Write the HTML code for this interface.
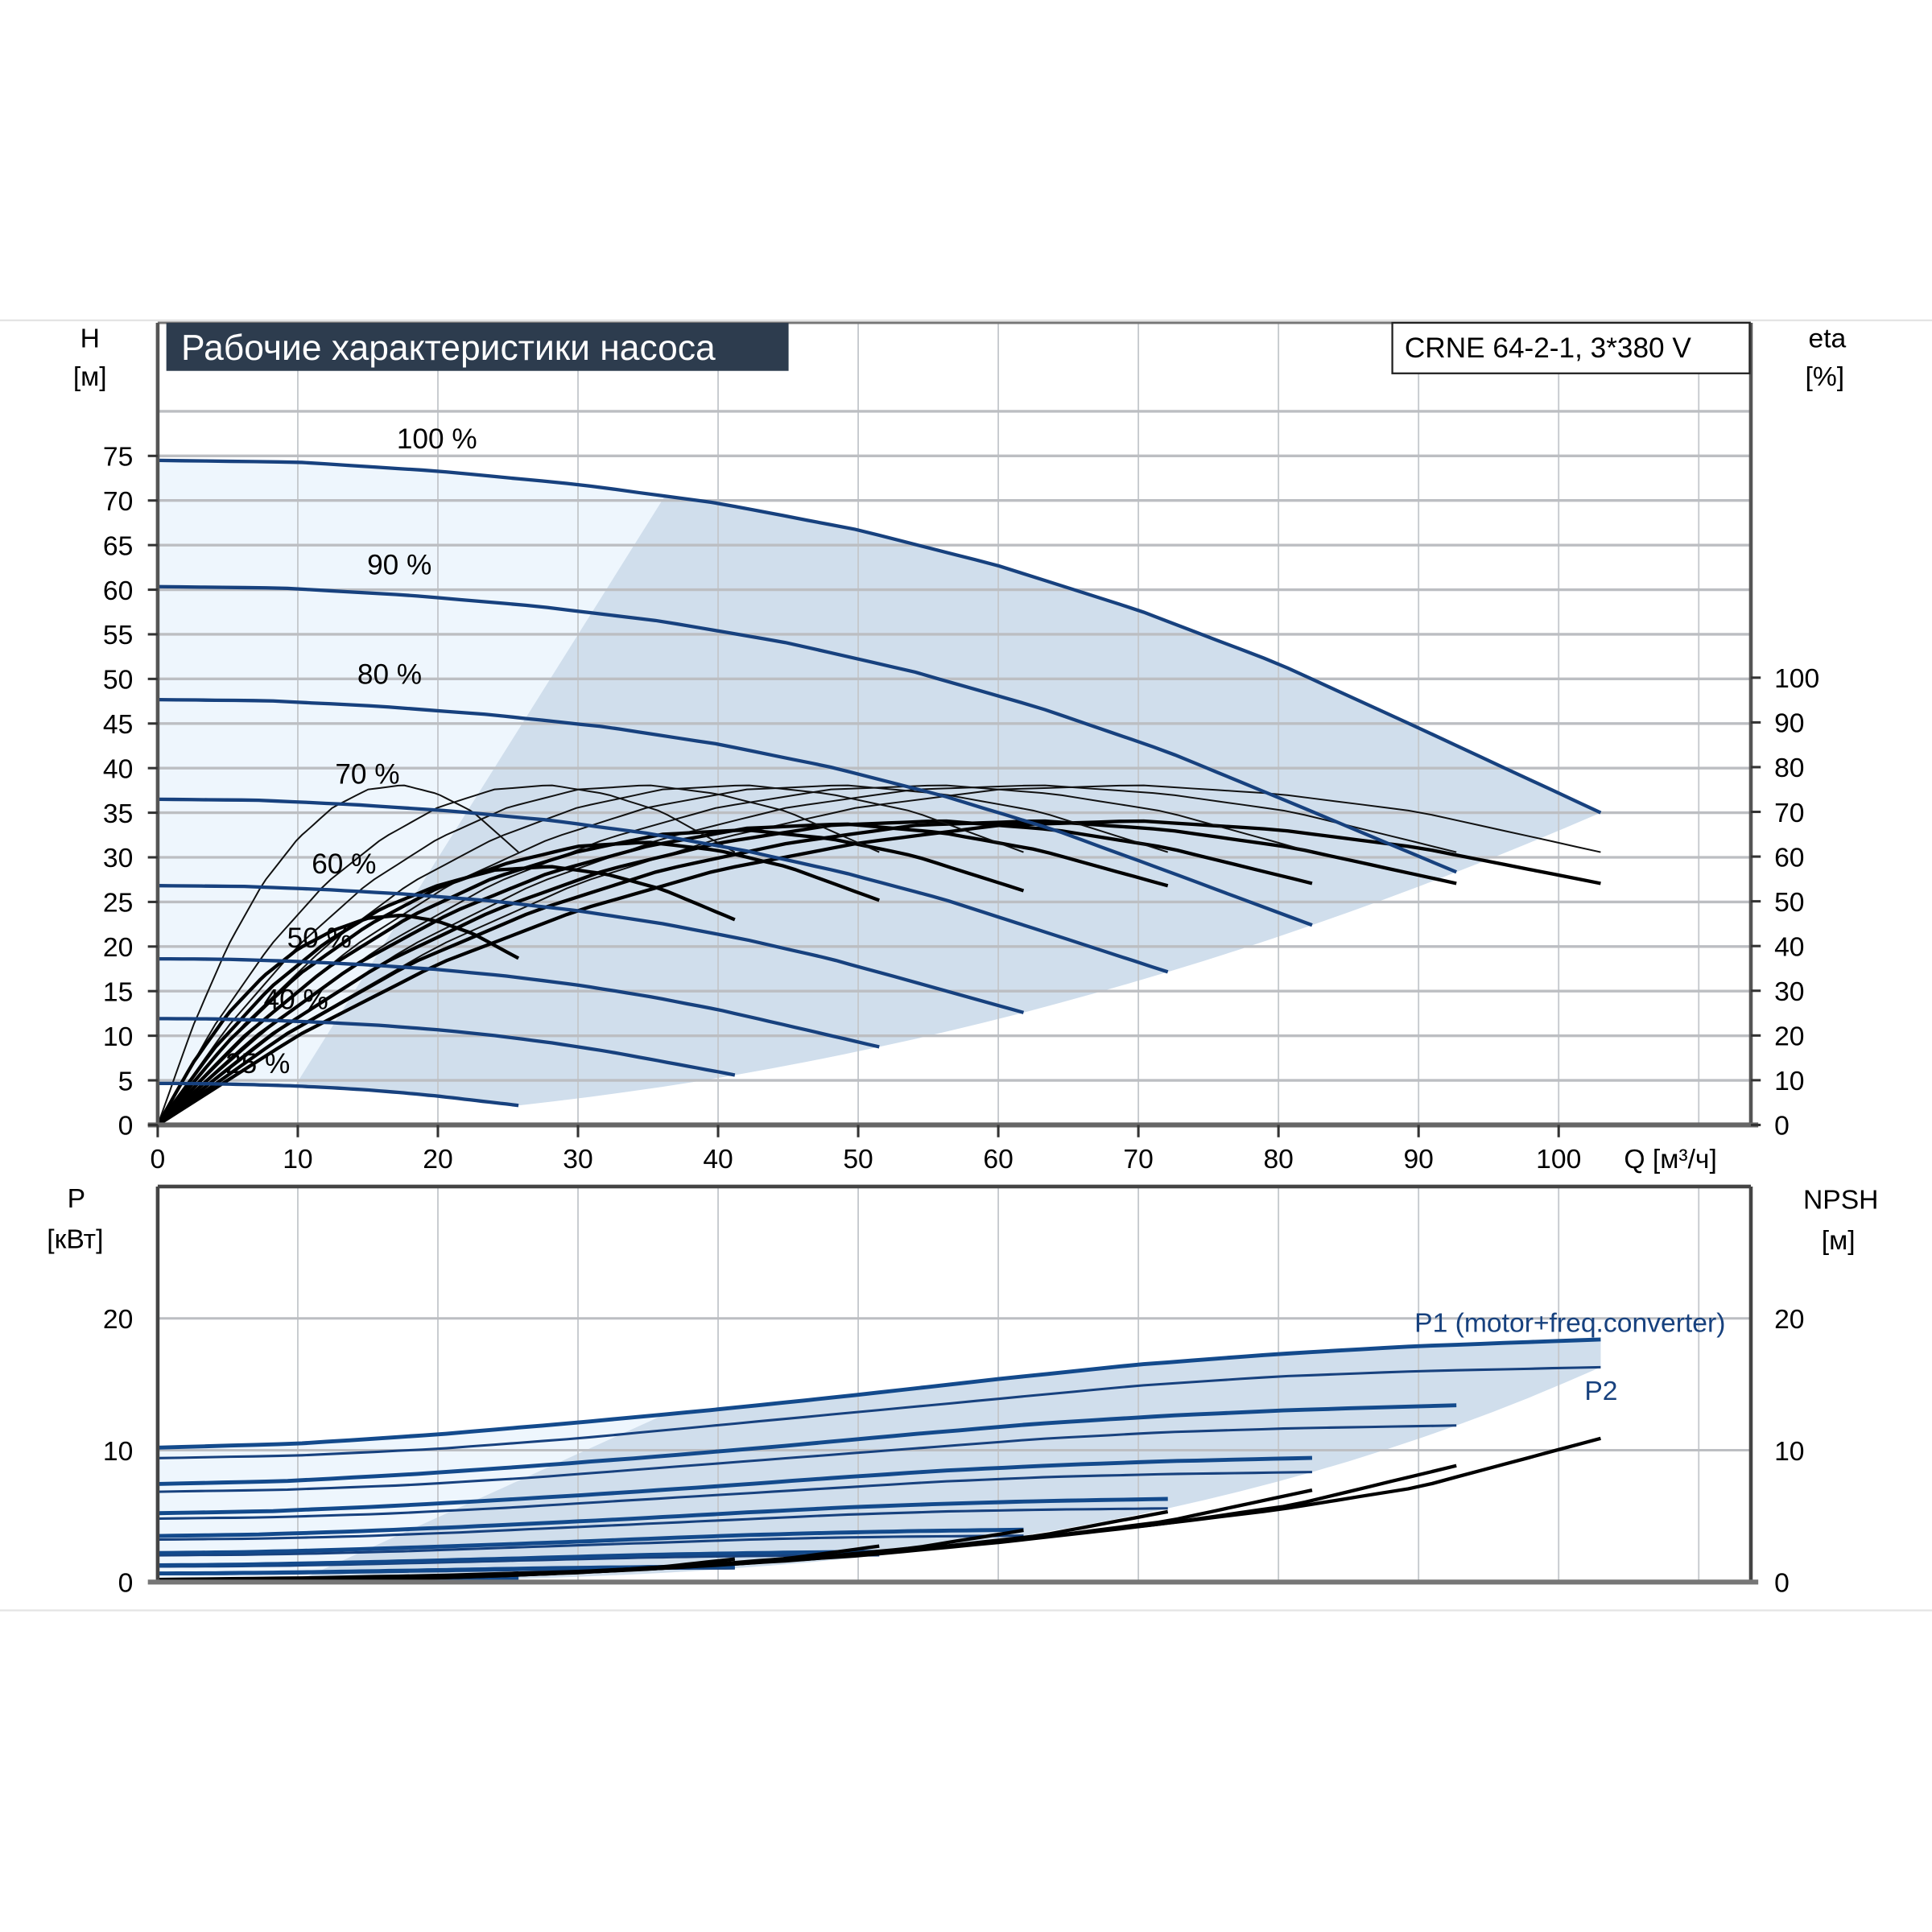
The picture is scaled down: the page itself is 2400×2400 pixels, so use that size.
<!DOCTYPE html>
<html><head><meta charset="utf-8"><style>
html,body{margin:0;padding:0;background:#fff;}
svg{display:block;font-family:"Liberation Sans",sans-serif;}
</style></head><body>
<svg id="chart" width="2400" height="2400" viewBox="0 0 1568 1568" xmlns="http://www.w3.org/2000/svg">
<g id="bg"></g>
</svg>
<script>
// ---- data ----
const speeds = [1.0, 0.9, 0.8, 0.7, 0.6, 0.5, 0.4, 0.25];
const speedLabels = ["100 %","90 %","80 %","70 %","60 %","50 %","40 %","25 %"];
const baseQ = [0,10,20,30,40,50,60,70,80,90,103];
const baseH = [74.5,74.3,73.3,71.8,69.7,66.7,62.7,57.7,51.7,44.5,35];
const etaPumpBase = [0,22,40,54,64,71,75,76,74,70,61];
const etaTotalBase = [0,20,36,48,57,63,67,68,66,62,54];
const etaTotalFactor = [1,1,1,0.99,0.97,0.93,0.85,0.69];
const p1Base = [10.2,10.5,11.2,12.1,13.1,14.2,15.4,16.5,17.3,17.9,18.4];
const p2Base = [9.4,9.6,10.1,10.9,11.9,12.9,13.9,14.9,15.6,16.0,16.3];
const npshBase = [0.2,0.3,0.5,0.8,1.3,2.0,3.0,4.2,5.5,7.2,10.9];
const qTicks = [0,10,20,30,40,50,60,70,80,90,100];
const hTicks = [0,5,10,15,20,25,30,35,40,45,50,55,60,65,70,75];
const etaTicks = [0,10,20,30,40,50,60,70,80,90,100];
const pTicks = [0,10,20];

// ---- axes ----
const X0=128, XR=1421, QPX=11.37;
const xQ = q => X0 + q*QPX;
const yH = h => 913 - h*7.24;
const yEta = e => 913 - e*3.63;
const yP = p => 1284 - p*10.7;
const TOP=262, BOT=913, PTOP=963, PBOT=1284;

const svg=document.getElementById('chart');
const NS="http://www.w3.org/2000/svg";
function el(tag, attrs, parent){const e=document.createElementNS(NS,tag);for(const k in attrs)e.setAttribute(k,attrs[k]);(parent||svg).appendChild(e);return e;}
function interp(xs, ys, x){
  if(x<=xs[0])return ys[0];
  for(let i=1;i<xs.length;i++){ if(x<=xs[i]){const t=(x-xs[i-1])/(xs[i]-xs[i-1]);return ys[i-1]+t*(ys[i]-ys[i-1]);} }
  const n=xs.length;const t=(x-xs[n-2])/(xs[n-1]-xs[n-2]);return ys[n-2]+t*(ys[n-1]-ys[n-2]);
}
const Hs=(s,q)=>s*s*interp(baseQ,baseH,q/s);
const P1s=(s,q)=>s*s*s*interp(baseQ,p1Base,q/s);
const P2s=(s,q)=>s*s*s*interp(baseQ,p2Base,q/s);
const Ns=(s,q)=>s*s*interp(baseQ,npshBase,q/s);
const Qend=s=>103*s;
function curvePts(fn, qa, qb, xf, yf){const pts=[];const n=60;for(let i=0;i<=n;i++){const q=qa+(qb-qa)*i/n;pts.push([xf(q),yf(fn(q))]);}return pts;}
const ptsStr=p=>p.map(a=>a[0].toFixed(1)+','+a[1].toFixed(1)).join(' ');
const sSweep=[];for(let i=0;i<=30;i++)sSweep.push(1-0.75*i/30);

// page separators
let e;
e=el('line',{x1:0,y1:260,x2:1568,y2:260,stroke:'#e4e4e4','stroke-width':1.5});

e=el('line',{x1:0,y1:1307,x2:1568,y2:1307,stroke:'#e4e4e4','stroke-width':1.5});


// ---- top chart fills ----
{
  let light=[[xQ(0),yH(0)]];
  light=light.concat(curvePts(q=>Hs(1,q),0,103,xQ,yH));
  sSweep.forEach(s=>light.push([xQ(Qend(s)),yH(Hs(s,Qend(s)))]));
  curvePts(q=>Hs(0.25,q),Qend(0.25),0,xQ,yH).forEach(p=>light.push(p));
  e=el('polygon',{points:ptsStr(light),fill:'#eef6fd'});
  
  let dark=curvePts(q=>Hs(1,q),36.2,103,xQ,yH);
  sSweep.forEach(s=>dark.push([xQ(Qend(s)),yH(Hs(s,Qend(s)))]));
  curvePts(q=>Hs(0.25,q),Qend(0.25),9.8,xQ,yH).forEach(p=>dark.push(p));
  e=el('polygon',{points:ptsStr(dark),fill:'#d0deec'});
  
}
// ---- bottom chart fills ----
{
  let light=[[xQ(0),yP(0)]];
  light=light.concat(curvePts(q=>P1s(1,q),0,103,xQ,yP));
  sSweep.forEach(s=>light.push([xQ(Qend(s)),yP(P2s(s,Qend(s)))]));
  light.push([xQ(Qend(0.25)),yP(0)]);
  e=el('polygon',{points:ptsStr(light),fill:'#eef6fd'});
  
  let dark=curvePts(q=>P1s(1,q),36.2,103,xQ,yP);
  sSweep.forEach(s=>dark.push([xQ(Qend(s)),yP(P2s(s,Qend(s)))]));
  dark.push([xQ(Qend(0.25)),yP(0)]);dark.push([xQ(9.8),yP(0)]);
  e=el('polygon',{points:ptsStr(dark),fill:'#d0deec'});
  
}

// ---- grids ----
for(let q=10;q<=110;q+=10){
  e=el('line',{x1:xQ(q),y1:TOP,x2:xQ(q),y2:BOT,stroke:'#c4c8cc','stroke-width':1.2});
  
  e=el('line',{x1:xQ(q),y1:PTOP,x2:xQ(q),y2:PBOT,stroke:'#c4c8cc','stroke-width':1.2});
  
}
for(let h=5;h<=80;h+=5){
  e=el('line',{x1:X0,y1:yH(h),x2:XR,y2:yH(h),stroke:'#bcbec2','stroke-width':2.2});
  
}
[10,20].forEach(p=>{
  e=el('line',{x1:X0,y1:yP(p),x2:XR,y2:yP(p),stroke:'#bcbec2','stroke-width':2});
  
});

// ---- efficiency curves ----
speeds.forEach((s,i)=>{
  const thin=curvePts(q=>interp(baseQ,etaPumpBase,q/s),0,Qend(s),xQ,yEta);
  e=el('polyline',{points:ptsStr(thin),fill:'none',stroke:'#111','stroke-width':1.3});
  
  const thick=curvePts(q=>etaTotalFactor[i]*interp(baseQ,etaTotalBase,q/s),0,Qend(s),xQ,yEta);
  e=el('polyline',{points:ptsStr(thick),fill:'none',stroke:'#000','stroke-width':2.8});
  
});
// ---- head curves ----
speeds.forEach((s,i)=>{
  const pts=curvePts(q=>Hs(s,q),0,Qend(s),xQ,yH);
  e=el('polyline',{points:ptsStr(pts),fill:'none',stroke:'#17417e','stroke-width':2.8});
  
});
const labelPos=[[322,364],[298,466],[290,555],[272,636],[253,709],[233,769],[214,819],[183,871]];
speeds.forEach((s,i)=>{
  e=el('text',{x:labelPos[i][0],y:labelPos[i][1],'font-size':23,fill:'#000'});
  e.textContent=speedLabels[i];
  
});

// ---- power curves ----
speeds.forEach((s,i)=>{
  e=el('polyline',{points:ptsStr(curvePts(q=>P2s(s,q),0,Qend(s),xQ,yP)),fill:'none',stroke:'#17417e','stroke-width':2});
  
  e=el('polyline',{points:ptsStr(curvePts(q=>P1s(s,q),0,Qend(s),xQ,yP)),fill:'none',stroke:'#134a8c','stroke-width':3.2});
  
});
speeds.forEach((s,i)=>{
  e=el('polyline',{points:ptsStr(curvePts(q=>Ns(s,q),0,Qend(s),xQ,yP)),fill:'none',stroke:'#000','stroke-width':2.8});
  
});

// ---- frames ----
function frameLine(x1,y1,x2,y2,w,c,name){e=el('line',{x1,y1,x2,y2,stroke:c,'stroke-width':w});}
frameLine(X0,TOP,XR,TOP,2,'#777','top-frame');
frameLine(X0,TOP,X0,BOT,3,'#555','h-axis-line');
frameLine(XR,TOP,XR,BOT,3,'#555','eta-axis-line');
frameLine(X0-8,BOT,XR+6,BOT,4,'#666','q-axis-line');
frameLine(X0,PTOP,XR,PTOP,3,'#444','bottom-top-frame');
frameLine(X0,PTOP,X0,PBOT,3,'#444','p-axis-line');
frameLine(XR,PTOP,XR,PBOT,3,'#444','npsh-axis-line');
frameLine(X0-8,PBOT,XR+6,PBOT,4,'#777','bottom-q-axis-line');

// ---- tick labels ----
hTicks.forEach(h=>{
  e=el('text',{x:108,y:yH(h)+8,'font-size':22,'text-anchor':'end',fill:'#000'});e.textContent=h;
  
  frameLine(X0-8,yH(h),X0,yH(h),2,'#333','h-tick');
});
etaTicks.forEach(t=>{
  e=el('text',{x:1440,y:yEta(t)+8,'font-size':22,fill:'#000'});e.textContent=t;
  
  frameLine(XR,yEta(t),XR+8,yEta(t),2,'#333','eta-tick');
});
qTicks.forEach(q=>{
  e=el('text',{x:xQ(q),y:948,'font-size':22,'text-anchor':'middle',fill:'#000'});e.textContent=q;
  
  frameLine(xQ(q),BOT,xQ(q),BOT+10,2,'#333','q-tick');
});
pTicks.forEach(p=>{
  e=el('text',{x:108,y:yP(p)+8,'font-size':22,'text-anchor':'end',fill:'#000'});e.textContent=p;
  
  e=el('text',{x:1440,y:yP(p)+8,'font-size':22,fill:'#000'});e.textContent=p;
  
});

function txt(x,y,s,t,name,extra){e=el('text',Object.assign({x,y,'font-size':s,fill:'#000'},extra||{}));e.textContent=t;return e;}
txt(73,282,22,'H','h-axis-title',{'text-anchor':'middle'});
txt(73,313,22,'[м]','h-axis-unit',{'text-anchor':'middle'});
txt(1483,282,22,'eta','eta-axis-title',{'text-anchor':'middle'});
txt(1481,313,22,'[%]','eta-axis-unit',{'text-anchor':'middle'});
txt(1318,948,22,'Q [м³/ч]','q-axis-title');
txt(62,980,22,'P','p-axis-title',{'text-anchor':'middle'});
txt(61,1013,22,'[кВт]','p-axis-unit',{'text-anchor':'middle'});
txt(1494,981,22,'NPSH','npsh-axis-title',{'text-anchor':'middle'});
txt(1492,1014,22,'[м]','npsh-axis-unit',{'text-anchor':'middle'});
txt(1148,1081,22,'P1 (motor+freq.converter)','p1-label',{fill:'#17417e'});
txt(1286,1136,22,'P2','p2-label',{fill:'#17417e'});

// title boxes
e=el('rect',{x:135,y:262,width:505,height:39,fill:'#2d3c4e'});

txt(147,292,29,'Рабочие характеристики насоса','chart-title',{fill:'#fff'});
e=el('rect',{x:1130,y:262,width:290,height:41,fill:'#fff',stroke:'#222','stroke-width':1.5});

txt(1140,290,23,'CRNE 64-2-1, 3*380 V','model-label');
</script>
</body></html>
